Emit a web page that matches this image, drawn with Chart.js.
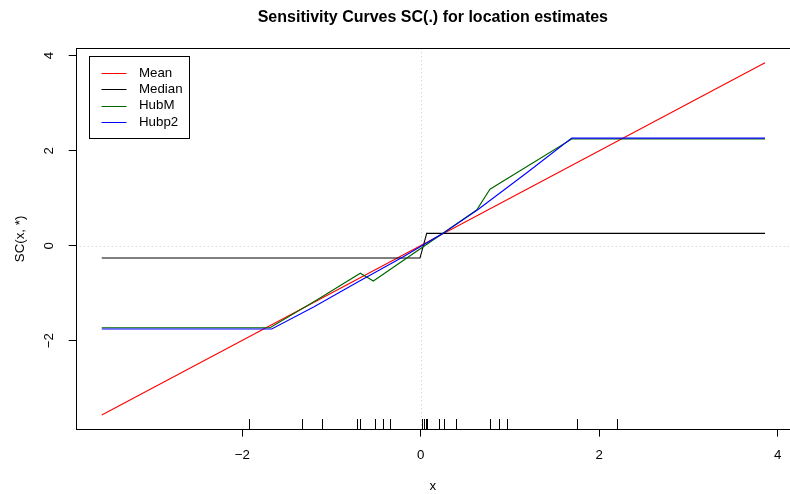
<!DOCTYPE html>
<html>
<head>
<meta charset="utf-8">
<script src="https://cdn.jsdelivr.net/npm/chart.js@4"></script>
<style>
  body { margin: 0; background: #fff; }
</style>
</head>
<body>
<canvas id="scChart" width="790" height="494"></canvas>
<script>
//Data
var seriesLabels = ["Mean", "Median", "HubM", "Hubp2"];
var seriesColors = ["#FF0000", "#000000", "#006400", "#0000FF"];

var meanX = [-3.574, 3.858];
var meanY = [-3.564, 3.85];

var medianX = [-3.574, -0.008, 0.067, 3.858];
var medianY = [-0.26, -0.26, 0.26, 0.26];

var hubMX = [-3.574, -1.689, -1.165, -0.677, -0.531, 0.627, 0.776, 1.692, 3.858];
var hubMY = [-1.726, -1.726, -1.143, -0.58, -0.743, 0.75, 1.19, 2.246, 2.246];

var hubp2X = [-3.574, -1.67, -1.2, -0.7, -0.2, 0.25, 0.646, 1.2, 1.692, 3.858];
var hubp2Y = [-1.754, -1.754, -1.29, -0.76, -0.24, 0.26, 0.766, 1.55, 2.265, 2.265];

//sample points shown as rug
var rugX = [-1.920, -1.327, -1.110, -0.717, -0.677, -0.515, -0.426, -0.344, 0.018, 0.037,
            0.056, 0.071, 0.209, 0.261, 0.396, 0.773, 0.874, 0.967, 1.755, 2.200];

var xTicks = [-2, 0, 2, 4];
var yTicks = [-2, 0, 2, 4];

var fontFamily = "'Liberation Sans', Arial, Helvetica, sans-serif";

function toPoints(xs, ys) {
  return xs.map(function(x, i) { return { x: x, y: ys[i] }; });
}

function fmtTick(v) {
  return v < 0 ? "\u2212" + Math.abs(v) : String(v);
}

//R style extras: box, reference lines, rug, legend, rotated y labels
var rStylePlugin = {
  id: "rStyle",
  beforeDatasetsDraw: function(chart) {
    var ctx = chart.ctx, area = chart.chartArea;
    var xs = chart.scales.x, ys = chart.scales.y;
    var x0 = Math.round(xs.getPixelForValue(0)) + 0.5;
    var y0 = Math.round(ys.getPixelForValue(0)) + 0.5;
    ctx.save();
    ctx.strokeStyle = "#c8c8c8";
    ctx.lineWidth = 1;
    ctx.setLineDash([1, 3]);
    ctx.beginPath();
    ctx.moveTo(x0, area.top);
    ctx.lineTo(x0, area.bottom);
    ctx.moveTo(area.left, y0);
    ctx.lineTo(area.right, y0);
    ctx.stroke();
    ctx.restore();
  },
  afterDatasetsDraw: function(chart) {
    var ctx = chart.ctx, area = chart.chartArea;
    var xs = chart.scales.x, ys = chart.scales.y;
    ctx.save();
    ctx.strokeStyle = "#000";
    ctx.lineWidth = 1;
    ctx.setLineDash([]);

    // plot box
    ctx.strokeRect(Math.round(area.left) + 0.5, Math.round(area.top) + 0.5,
      Math.round(area.right - area.left) + 2, Math.round(area.bottom - area.top));

    // rug
    ctx.beginPath();
    rugX.forEach(function(v) {
      var px = Math.round(xs.getPixelForValue(v)) + 0.5;
      ctx.moveTo(px, Math.round(area.bottom));
      ctx.lineTo(px, Math.round(area.bottom) - 11);
    });
    ctx.stroke();

    // y tick labels, rotated like R
    ctx.fillStyle = "#000";
    ctx.font = "13.3px " + fontFamily;
    ctx.textAlign = "center";
    ctx.textBaseline = "middle";
    ys.ticks.forEach(function(t) {
      ctx.save();
      ctx.translate(area.left - 26, ys.getPixelForValue(t.value));
      ctx.rotate(-Math.PI / 2);
      ctx.fillText(fmtTick(t.value), 0, 0);
      ctx.restore();
    });

    // legend
    var lx = Math.round(area.left + 13.6) + 0.5;
    var ly = Math.round(area.top + 7.7) + 0.5;
    ctx.strokeRect(lx, ly, 100, 82);
    ctx.textAlign = "left";
    seriesLabels.forEach(function(lbl, i) {
      var rowY = ly + 16.5 + i * 16.3;
      ctx.strokeStyle = seriesColors[i];
      ctx.beginPath();
      ctx.moveTo(lx + 12, Math.round(rowY) + 0.5);
      ctx.lineTo(lx + 37, Math.round(rowY) + 0.5);
      ctx.stroke();
      ctx.fillText(lbl, lx + 49.5, rowY);
    });
    ctx.restore();
  }
};

var allX = [meanX, medianX, hubMX, hubp2X];
var allY = [meanY, medianY, hubMY, hubp2Y];

var datasets = seriesLabels.map(function(lbl, i) {
  return {
    label: lbl,
    data: toPoints(allX[i], allY[i]),
    showLine: true,
    borderColor: seriesColors[i],
    borderWidth: 1.1,
    pointRadius: 0,
    fill: false,
    tension: 0,
    //later series drawn on top, like R
    order: seriesLabels.length - i
  };
});

var ctx = document.getElementById("scChart").getContext("2d");
var chart = new Chart(ctx, {
  type: "scatter",
  data: { datasets: datasets },
  plugins: [rStylePlugin],
  options: {
    responsive: false,
    animation: false,
    devicePixelRatio: 1,
    layout: { padding: 0 },
    plugins: {
      legend: { display: false },
      tooltip: { enabled: false },
      title: {
        display: true,
        text: "Sensitivity Curves SC(.) for location estimates",
        fullSize: false,
        color: "#000",
        font: { family: fontFamily, size: 16, weight: "bold" },
        padding: { top: 8, bottom: 21.1 }
      }
    },
    scales: {
      x: {
        type: "linear",
        min: -3.866,
        max: 4.138,
        afterBuildTicks: function(s) { s.ticks = xTicks.map(function(v) { return { value: v }; }); },
        afterFit: function(s) { s.height = 64.4; s.paddingLeft = 0; s.paddingRight = 0; },
        border: { display: false },
        grid: { drawOnChartArea: false, drawTicks: true, tickLength: 7, color: "#000" },
        ticks: {
          color: "#000",
          font: { family: fontFamily, size: 13.3 },
          padding: 11,
          maxRotation: 0,
          autoSkip: false,
          callback: function(v) { return fmtTick(v); }
        },
        title: {
          display: true,
          text: "x",
          color: "#000",
          font: { family: fontFamily, size: 13.3 },
          padding: 0
        }
      },
      y: {
        type: "linear",
        min: -3.871,
        max: 4.155,
        afterBuildTicks: function(s) { s.ticks = yTicks.map(function(v) { return { value: v }; }); },
        afterFit: function(s) { s.width = 75.7; s.paddingTop = 0; s.paddingBottom = 0; },
        border: { display: false },
        grid: { drawOnChartArea: false, drawTicks: true, tickLength: 7, color: "#000" },
        ticks: { display: false },
        title: {
          display: true,
          text: "SC(x, *)",
          color: "#000",
          font: { family: fontFamily, size: 13.3 },
          padding: { top: 12, bottom: 0 }
        }
      }
    }
  }
});
</script>
</body>
</html>
